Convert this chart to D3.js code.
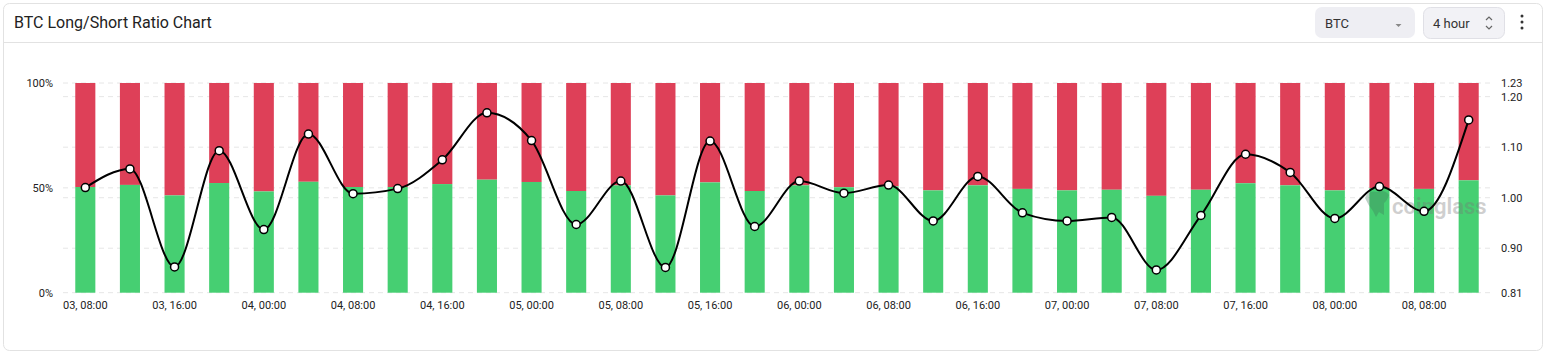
<!DOCTYPE html>
<html>
<head>
<meta charset="utf-8">
<script src="https://cdn.jsdelivr.net/npm/d3@7"></script>
<style>
  body { margin: 0; background: #fff; }
  svg { display: block; font-family: Roboto, "Noto Sans", sans-serif; }
</style>
</head>
<body>
<script>
// 4h buckets, 03 08:00 .. 08 12:00
const times = [
  "03, 08:00", "03, 12:00", "03, 16:00", "03, 20:00",
  "04, 00:00", "04, 04:00", "04, 08:00", "04, 12:00",
  "04, 16:00", "04, 20:00", "05, 00:00", "05, 04:00",
  "05, 08:00", "05, 12:00", "05, 16:00", "05, 20:00",
  "06, 00:00", "06, 04:00", "06, 08:00", "06, 12:00",
  "06, 16:00", "06, 20:00", "07, 00:00", "07, 04:00",
  "07, 08:00", "07, 12:00", "07, 16:00", "07, 20:00",
  "08, 00:00", "08, 04:00", "08, 08:00", "08, 12:00"
];

// long accounts %, short is the rest
const longPct = [
  50.4, 51.4, 46.4, 52.3, 48.3, 52.9, 50.4, 50.4,
  51.8, 53.9, 52.8, 48.5, 51.2, 46.4, 52.6, 48.5,
  51.2, 50.3, 50.7, 48.8, 51.2, 49.5, 48.8, 49.1,
  46.2, 49.1, 52.2, 51.2, 48.8, 49.9, 49.5, 53.6
];

const ratio = [
  1.020, 1.057, 0.863, 1.093, 0.937, 1.126, 1.008, 1.018,
  1.075, 1.168, 1.113, 0.947, 1.033, 0.862, 1.112, 0.943,
  1.033, 1.009, 1.025, 0.954, 1.042, 0.970, 0.954, 0.961,
  0.857, 0.965, 1.086, 1.050, 0.959, 1.022, 0.973, 1.154
];

const pctTicks = [0, 50, 100];
const ratioTicks = [0.812, 0.90, 1.00, 1.10, 1.20, 1.227];

const W = 1546, H = 354;
const GREEN = "#46cf72", RED = "#de4058";

const svg = d3.select("body")
  .append("svg")
  .attr("width", W)
  .attr("height", H);

// card
svg.append("rect")
  .attr("x", 3.5).attr("y", 3.5)
  .attr("width", W - 7).attr("height", H - 7)
  .attr("rx", 6)
  .attr("fill", "#fff")
  .attr("stroke", "#e2e2e2");

svg.append("line")
  .attr("x1", 4).attr("x2", W - 4)
  .attr("y1", 42.5).attr("y2", 42.5)
  .attr("stroke", "#e2e2e2");

svg.append("text")
  .attr("x", 14).attr("y", 28)
  .attr("font-size", 16)
  .attr("fill", "#222")
  .text("BTC Long/Short Ratio Chart");

// controls in header
const ctl = svg.append("g").attr("font-size", 13).attr("fill", "#333");
ctl.append("rect")
  .attr("x", 1315).attr("y", 7).attr("width", 100).attr("height", 31)
  .attr("rx", 7).attr("fill", "#eeeef3");
ctl.append("text").attr("x", 1325).attr("y", 27.5).text("BTC");
ctl.append("path")
  .attr("d", "M1395.5,24 l3,3 l3,-3 z")
  .attr("fill", "#888");

ctl.append("rect")
  .attr("x", 1423.5).attr("y", 7.5).attr("width", 81).attr("height", 31)
  .attr("rx", 7).attr("fill", "#f2f2f6").attr("stroke", "#e0e0e6");
ctl.append("text").attr("x", 1433).attr("y", 27.5).text("4 hour");
ctl.append("path")
  .attr("d", "M1486,20 l3,-3 l3,3 M1486,26 l3,3 l3,-3")
  .attr("fill", "none").attr("stroke", "#666").attr("stroke-width", 1.2);

[16, 22, 28].forEach(cy => {
  ctl.append("circle").attr("cx", 1522).attr("cy", cy).attr("r", 1.5).attr("fill", "#333");
});

// scales
const x = d3.scaleBand()
  .domain(times)
  .range([63, 1491])
  .paddingInner(0.55)
  .paddingOuter(0.275);

const yPct = d3.scaleLinear().domain([0, 100]).range([292.7, 83]);
const yRatio = d3.scaleLinear().domain([0.812, 1.227]).range([292.7, 83]);

// grid
const grid = svg.append("g")
  .attr("stroke", "#e6e6e6")
  .attr("stroke-dasharray", "5,4");
pctTicks.forEach(t => {
  grid.append("line")
    .attr("x1", 63).attr("x2", 1491)
    .attr("y1", yPct(t)).attr("y2", yPct(t));
});
ratioTicks.slice(1, -1).forEach(t => {
  grid.append("line")
    .attr("x1", 63).attr("x2", 1491)
    .attr("y1", yRatio(t)).attr("y2", yRatio(t));
});

// axes
const leftAxis = svg.append("g")
  .attr("transform", "translate(56,0)")
  .call(d3.axisLeft(yPct).tickValues(pctTicks).tickSize(0).tickFormat(d => d + "%"));

const rightAxis = svg.append("g")
  .attr("transform", "translate(1498,0)")
  .call(d3.axisRight(yRatio).tickValues(ratioTicks).tickSize(0).tickFormat(d3.format(".2f")));

const xAxis = svg.append("g")
  .attr("transform", "translate(0,296)")
  .call(d3.axisBottom(x).tickValues(times.filter((d, i) => i % 2 === 0)).tickSize(0));

[leftAxis, rightAxis, xAxis].forEach(a => {
  a.select(".domain").remove();
  a.selectAll("text")
    .attr("font-family", "Roboto, sans-serif")
    .attr("font-size", 11)
    .attr("fill", "#222");
});
leftAxis.selectAll("text").attr("dx", 0);
rightAxis.selectAll("text").attr("dx", 0);
xAxis.selectAll("text").attr("dy", "0.9em");

// bars
const bars = svg.append("g");
bars.selectAll(".short")
  .data(times)
  .join("rect")
  .attr("class", "short")
  .attr("x", d => x(d))
  .attr("width", x.bandwidth())
  .attr("y", yPct(100))
  .attr("height", (d, i) => yPct(longPct[i]) - yPct(100))
  .attr("fill", RED);

bars.selectAll(".long")
  .data(times)
  .join("rect")
  .attr("class", "long")
  .attr("x", d => x(d))
  .attr("width", x.bandwidth())
  .attr("y", (d, i) => yPct(longPct[i]))
  .attr("height", (d, i) => yPct(0) - yPct(longPct[i]))
  .attr("fill", GREEN);

// watermark
const wm = svg.append("g").attr("opacity", 0.35);
wm.append("path")
  .attr("d", "M1365,198 q3,-8 12,-6 q8,-3 12,3 q-2,6 -5,8 l0,12 l-5,-3 l-3,5 l-3,-6 q-5,-6 -8,-13 z")
  .attr("fill", "#3f7a5a");
wm.append("text")
  .attr("x", 1392).attr("y", 214)
  .attr("font-size", 22)
  .attr("font-weight", 600)
  .attr("fill", "#777")
  .text("coinglass");

// ratio line
const cx = d => x(d) + x.bandwidth() / 2;
const line = d3.line()
  .x(d => cx(d))
  .y((d, i) => yRatio(ratio[i]))
  .curve(d3.curveMonotoneX);

svg.append("path")
  .datum(times)
  .attr("d", line)
  .attr("fill", "none")
  .attr("stroke", "#000")
  .attr("stroke-width", 2);

svg.append("g")
  .selectAll("circle")
  .data(times)
  .join("circle")
  .attr("cx", d => cx(d))
  .attr("cy", (d, i) => yRatio(ratio[i]))
  .attr("r", 4)
  .attr("fill", "#fff")
  .attr("stroke", "#000")
  .attr("stroke-width", 1.5);
</script>
</body>
</html>
